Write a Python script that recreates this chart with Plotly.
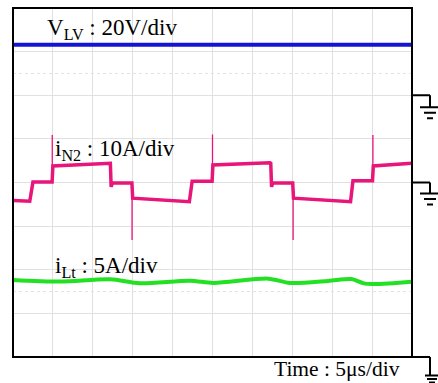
import plotly.graph_objects as go

# ---------------- data ----------------
# time axis in microseconds (5 us/div, 10 div)
time_ticks = [0, 5, 10, 15, 20, 25, 30, 35, 40, 45, 50]

# V_LV (20 V/div), ground marker at +2 div
vlv_t = [0, 50]
vlv_v = [23.2, 23.2]

# i_N2 (10 A/div), ground marker at 0 div : stepped levels
in2_t = [0, 2.1, 2.5, 4.9, 5.0, 12.1, 12.2, 12.3, 12.45, 14.9, 15.0, 22.1, 22.45,
         24.95, 25.05, 32.2, 32.3, 32.4, 32.55, 35.05, 35.15, 42.3, 42.6, 45.05, 45.15, 50]
in2_v = [-4.1, -4.3, 0.1, 0.1, 3.8, 4.5, 4.4, -1.0, -0.1, -0.1, -3.6, -4.4, 0.3,
         0.3, 4.0, 4.5, 4.4, -1.0, -0.1, -0.1, -3.6, -4.4, 0.4, 0.4, 3.8, 4.4]
# switching spikes of i_N2
spike_t = [4.92, 14.92, 25.0, 35.1, 45.1]
spike_base = [0.1, -0.1, 0.3, -0.1, 0.4]
spike_peak = [10.9, -13.2, 11.0, -13.2, 10.9]

# i_Lt (5 A/div), ground marker at -4 div
ilt_t = [0, 5.9, 12.2, 15.9, 22.2, 25.1, 32.0, 34.7, 39.5, 42.4, 44.1, 50]
ilt_v = [8.83, 8.64, 8.91, 8.45, 8.75, 8.49, 8.98, 8.49, 8.72, 8.94, 8.41, 8.64]

channels = {
    "vlv": dict(ground=2.0, scale=20.0),
    "in2": dict(ground=0.0, scale=10.0),
    "ilt": dict(ground=-4.0, scale=5.0),
}

def to_div(vals, ch):
    g = channels[ch]["ground"]; s = channels[ch]["scale"]
    return [None if v is None else g + v / s for v in vals]

# ---------------- layout geometry ----------------
W, H = 438, 383
L, R, T, B = 13, 26, 8, 26
PW, PH = W - L - R, H - T - B

def pxx(x):  # pixel x -> paper x
    return (x - L) / PW

def pxy(y):  # pixel y -> paper y
    return (H - B - y) / PH

def div_to_pix(d):
    return T + PH / 2 - d * PH / 8

fig = go.Figure()

# spikes (thin)
sx, sy = [], []
for t, b, p in zip(spike_t, spike_base, spike_peak):
    sx += [t, t, None]
    sy += [b, p, None]
fig.add_trace(go.Scatter(x=sx, y=to_div(sy, "in2"), mode="lines",
                         line=dict(color="#e8157a", width=1.3), hoverinfo="skip"))

fig.add_trace(go.Scatter(x=vlv_t, y=to_div(vlv_v, "vlv"), mode="lines",
                         line=dict(color="#1414d2", width=4), hoverinfo="skip"))
fig.add_trace(go.Scatter(x=in2_t, y=to_div(in2_v, "in2"), mode="lines",
                         line=dict(color="#e8157a", width=3.5), hoverinfo="skip"))
fig.add_trace(go.Scatter(x=ilt_t, y=to_div(ilt_v, "ilt"), mode="lines",
                         line=dict(color="#22e022", width=4, shape="spline", smoothing=0.8),
                         hoverinfo="skip"))

shapes = []
# center dotted axes
shapes.append(dict(type="line", xref="x", yref="y", x0=25, x1=25, y0=-4, y1=4,
                   line=dict(color="#b8b8b8", width=1, dash="dot"), layer="below"))
shapes.append(dict(type="line", xref="x", yref="y", x0=0, x1=50, y0=0, y1=0,
                   line=dict(color="#b8b8b8", width=1, dash="dot"), layer="below"))
for yy in (2.5, -2.5):
    shapes.append(dict(type="line", xref="x", yref="y", x0=0, x1=50, y0=yy, y1=yy,
                       line=dict(color="#e2e2e2", width=1, dash="dot"), layer="below"))
# border
shapes.append(dict(type="rect", xref="paper", yref="paper", x0=0, x1=1, y0=0, y1=1,
                   line=dict(color="black", width=2)))

# ground markers
def ground(level_div, drop, bars):
    y = div_to_pix(level_div)
    s = [dict(type="line", xref="paper", yref="paper", x0=pxx(W - R), x1=pxx(430),
              y0=pxy(y), y1=pxy(y), line=dict(color="black", width=2)),
         dict(type="line", xref="paper", yref="paper", x0=pxx(430), x1=pxx(430),
              y0=pxy(y), y1=pxy(y + drop), line=dict(color="black", width=2))]
    for dy, x0, x1 in bars:
        s.append(dict(type="line", xref="paper", yref="paper", x0=pxx(x0), x1=pxx(x1),
                      y0=pxy(y + dy), y1=pxy(y + dy), line=dict(color="black", width=2)))
    return s

shapes += ground(channels["vlv"]["ground"], 12, [(12, 420, 438), (17.5, 424, 436), (23, 427, 433)])
shapes += ground(channels["in2"]["ground"], 11, [(11, 420, 438), (16.5, 424, 436), (22, 427, 433)])
shapes += ground(channels["ilt"]["ground"], 18, [(18.5, 425, 438), (22, 427, 437), (25.5, 429, 435)])

font = dict(family="Liberation Serif, Times New Roman, serif", size=23, color="black")
annotations = [
    dict(text="V<sub>LV</sub> : 20V/div", x=pxx(45), y=pxy(29)),
    dict(text="i<sub>N2</sub> : 10A/div", x=pxx(53), y=pxy(150)),
    dict(text="i<sub>Lt</sub> : 5A/div", x=pxx(53), y=pxy(267)),
    dict(text="Time : 5μs/div", x=pxx(272), y=pxy(369), font_size=21.5),
]
for a in annotations:
    f = dict(font)
    if "font_size" in a:
        f["size"] = a.pop("font_size")
    a.update(xref="paper", yref="paper", xanchor="left", yanchor="middle",
             showarrow=False, font=f)

fig.update_layout(
    width=W, height=H,
    margin=dict(l=L, r=R, t=T, b=B),
    paper_bgcolor="white", plot_bgcolor="white",
    showlegend=False,
    shapes=shapes, annotations=annotations,
    xaxis=dict(range=[0, 50], tickvals=time_ticks, showticklabels=False, ticks="",
               showgrid=True, gridcolor="#e0e0e0", gridwidth=1, zeroline=False,
               fixedrange=True),
    yaxis=dict(range=[-4, 4], dtick=1, showticklabels=False, ticks="",
               showgrid=True, gridcolor="#e0e0e0", gridwidth=1, zeroline=False,
               fixedrange=True),
)

fig.write_html("out.html", config={"displayModeBar": False},
               post_script="document.body.style.margin='0';document.body.style.overflow='hidden';")
